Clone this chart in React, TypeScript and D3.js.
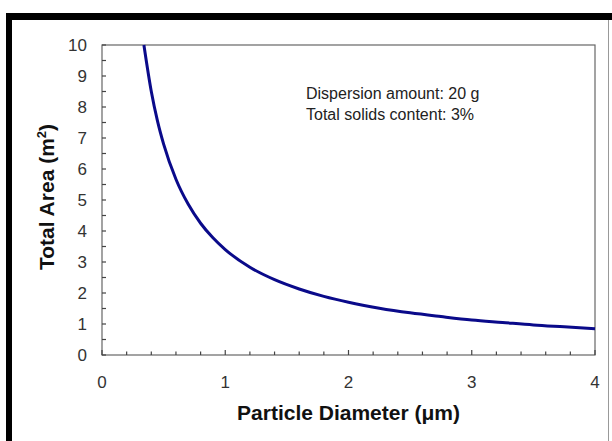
import React, { useEffect, useRef } from "react";
import * as d3 from "d3";

// values
const diameters = [0.34, 0.4, 0.45, 0.5, 0.6, 0.7, 0.8, 0.9, 1.0, 1.2, 1.4, 1.6, 1.8, 2.0, 2.25, 2.5, 2.75, 3.0, 3.25, 3.5, 3.75, 4.0];
const areas = [10.0, 8.5, 7.55, 6.8, 5.67, 4.86, 4.25, 3.78, 3.4, 2.83, 2.43, 2.13, 1.89, 1.7, 1.51, 1.36, 1.24, 1.13, 1.05, 0.97, 0.91, 0.85];
const xTicks = [0, 1, 2, 3, 4];
const yTicks = [0, 1, 2, 3, 4, 5, 6, 7, 8, 9, 10];
const notes = ["Dispersion amount: 20 g", "Total solids content: 3%"];

const App = () => {
  const svgRef = useRef<SVGSVGElement>(null);

  useEffect(() => {
    const svg = d3.select(svgRef.current);
    svg.selectAll("*").remove();
    const width = 612;
    const height = 441;
    const margin = { top: 45, right: 17, bottom: 86, left: 102 };
    const font = "'Liberation Sans', Arial, sans-serif";

    svg.attr("width", width).attr("height", height);
    svg.append("rect").attr("width", width).attr("height", height).attr("fill", "white");

    // picture frame (cropped at the bottom)
    svg.append("rect").attr("x", 6).attr("y", 13).attr("width", 6).attr("height", height - 13).attr("fill", "black");
    svg.append("rect").attr("x", 6).attr("y", 13).attr("width", width - 6).attr("height", 7).attr("fill", "black");
    svg.append("line").attr("x1", 608.5).attr("x2", 608.5).attr("y1", 20).attr("y2", height)
      .attr("stroke", "#999").attr("stroke-width", 1);

    const xScale = d3.scaleLinear().domain([0, 4]).range([margin.left, width - margin.right]);
    const yScale = d3.scaleLinear().domain([0, 10]).range([height - margin.bottom, margin.top]);

    // plot box
    svg.append("rect")
      .attr("x", xScale(0)).attr("y", yScale(10))
      .attr("width", xScale(4) - xScale(0)).attr("height", yScale(0) - yScale(10))
      .attr("fill", "none").attr("stroke", "#666").attr("stroke-width", 1.2);

    // inward ticks
    const xMinor = d3.range(0, 4.001, 0.2);
    svg.append("g").selectAll("line").data(xMinor).enter().append("line")
      .attr("x1", (d) => xScale(d)).attr("x2", (d) => xScale(d))
      .attr("y1", yScale(0)).attr("y2", (d) => yScale(0) - (Math.abs(d - Math.round(d)) < 1e-6 ? 5 : 3.5))
      .attr("stroke", "#444").attr("stroke-width", 1.2);
    const yMinor = d3.range(0, 10.001, 0.5);
    svg.append("g").selectAll("line").data(yMinor).enter().append("line")
      .attr("x1", xScale(0)).attr("x2", xScale(0) + 4)
      .attr("y1", (d) => yScale(d)).attr("y2", (d) => yScale(d))
      .attr("stroke", "#444").attr("stroke-width", 1.2);

    // tick labels
    svg.append("g").selectAll("text").data(xTicks).enter().append("text")
      .attr("x", (d) => xScale(d)).attr("y", yScale(0) + 33)
      .attr("text-anchor", "middle").attr("font-family", font).attr("font-size", 17).attr("fill", "#333")
      .text((d) => d);
    svg.append("g").selectAll("text").data(yTicks).enter().append("text")
      .attr("x", xScale(0) - 15).attr("y", (d) => yScale(d) + 6)
      .attr("text-anchor", "end").attr("font-family", font).attr("font-size", 17).attr("fill", "#333")
      .text((d) => d);

    // curve
    const line = d3.line<number>()
      .x((d, i) => xScale(diameters[i]))
      .y((d) => yScale(d))
      .curve(d3.curveMonotoneX);
    svg.append("path").datum(areas)
      .attr("fill", "none").attr("stroke", "#0a0a8a").attr("stroke-width", 3)
      .attr("d", line);

    // annotation
    svg.append("g").selectAll("text").data(notes).enter().append("text")
      .attr("x", 306).attr("y", (d, i) => 99 + i * 21)
      .attr("font-family", font).attr("font-size", 16).attr("fill", "#222")
      .text((d) => d);

    // axis titles
    svg.append("text")
      .attr("x", (xScale(0) + xScale(4)) / 2).attr("y", 420)
      .attr("text-anchor", "middle").attr("font-family", font).attr("font-size", 21)
      .attr("font-weight", "bold").attr("fill", "#111")
      .text("Particle Diameter (\u03bcm)");

    const yTitle = svg.append("text")
      .attr("transform", `translate(54, ${yScale(5) - 3}) rotate(-90)`)
      .attr("text-anchor", "middle").attr("font-family", font).attr("font-size", 21)
      .attr("font-weight", "bold").attr("fill", "#111");
    yTitle.append("tspan").text("Total Area (m");
    yTitle.append("tspan").attr("font-size", 13).attr("dy", -8).text("2");
    yTitle.append("tspan").attr("dy", 8).text(")");
  }, []);

  return (
    <div style={{ position: "fixed", left: 0, top: 0 }}>
      <svg ref={svgRef} style={{ display: "block" }}></svg>
    </div>
  );
};

export default App;
